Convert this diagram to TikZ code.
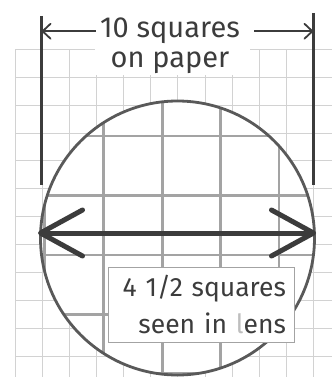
\documentclass[tikz,border=0pt]{standalone}
\usepackage{fontspec}
\setmainfont{Fira Sans}
\usetikzlibrary{arrows.meta, calc}
\definecolor{ink}{HTML}{3C3C3C}
\definecolor{paperGrid}{HTML}{D2D2D2}
\definecolor{lensGrid}{HTML}{A3A3A3}

\begin{document}
\begin{tikzpicture}[x=1pt, y=-1pt,
  note/.style={text=ink, inner sep=0pt, font=\fontsize{29}{34}\selectfont},
  edge mark/.style={draw=ink, line width=3pt},
  dim/.style={draw=ink, line width=1.8pt, -{Straight Barb[length=8pt, width=15pt, round]}},
  span/.style={draw=ink, line width=5pt, {Straight Barb[length=42pt, width=46pt, round]}-{Straight Barb[length=42pt, width=46pt, round]}},
]
  \useasboundingbox (0,0) rectangle (332,377);

  % squares on the paper
  \begin{scope}
    \clip (15,49.3) rectangle (332,377);
    \foreach \k in {0,...,12}
      \draw[paperGrid, line width=0.9pt] ({15+27.15*\k},49.3) -- ({15+27.15*\k},377);
    \foreach \k in {0,...,12}
      \draw[paperGrid, line width=0.9pt] (15,{49.3+27.9*\k}) -- (332,{49.3+27.9*\k});
  \end{scope}
  \fill[white] (95,0) rectangle (250,75);

  % the lens
  \coordinate (lensC) at (177.5,238);
  \fill[white] (lensC) circle (137);
  \begin{scope}
    \clip (lensC) circle (137);
    \foreach \x in {44.7,103.3,162.3,220.6,278.9}
      \draw[lensGrid, line width=2.6pt] (\x,90) -- (\x,380);
    \foreach \y in {136,195.6,254.9,314.2,373.5}
      \draw[lensGrid, line width=2.6pt] (30,\y) -- (325,\y);
  \end{scope}
  \draw[ink!85, line width=2.8pt] (lensC) circle (137);

  % edges of the 10 squares
  \coordinate (leftTop) at (41.7,16);
  \coordinate (leftBot) at (41.7,185);
  \coordinate (rightTop) at (313.3,13);
  \coordinate (rightBot) at (313.3,185);
  \draw[edge mark] (leftTop) -- (leftBot);
  \draw[edge mark] (rightTop) -- (rightBot);

  \node[note, anchor=base] (tenSq) at (170,38) {10 squares};
  \node[note, anchor=base] (onPaper) at (170,68) {on paper};
  \draw[dim] ($(tenSq.west)+(-4,0)$) -- (tenSq.west -| leftTop);
  \draw[dim] ($(tenSq.east)+(14,0)$) -- (tenSq.east -| rightTop);

  % width seen through the lens
  \coordinate (spanL) at (38,233);
  \coordinate (spanR) at (316,233);
  \draw[span] (spanL) -- (spanR);

  \node[note, draw=lensGrid, line width=0.8pt, fill=white, align=right,
        text width=170pt, minimum height=75pt, inner xsep=8pt, inner ysep=6pt,
        font=\fontsize{26.5}{37}\selectfont] (lensNote) at (201,304.5)
    {4 1/2 squares\\seen in {\color{lensGrid!70}l}ens};
\end{tikzpicture}
\end{document}
